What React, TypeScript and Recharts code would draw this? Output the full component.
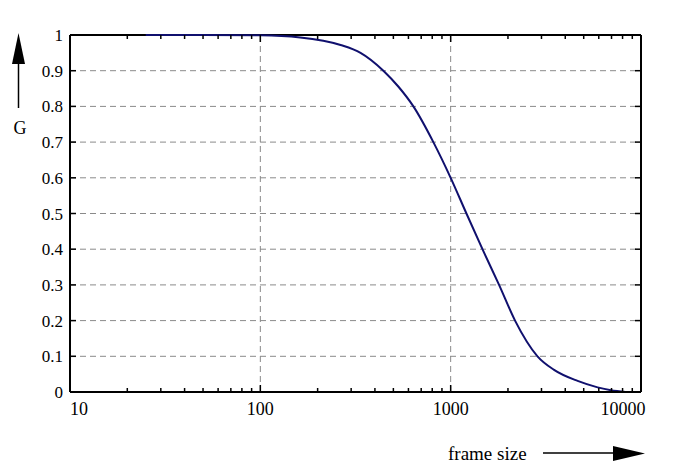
import { LineChart, Line, XAxis, YAxis, CartesianGrid, ReferenceLine } from "recharts";

// frame size (log axis) vs G
const frameSizes = [25, 50, 100, 162, 264, 336, 443, 532, 637, 811, 1000, 1210, 1469, 1796, 2179, 2858, 3494, 4645, 5916, 6950, 8300];
const gValues = [1.0, 1.0, 0.999, 0.993, 0.972, 0.95, 0.9, 0.855, 0.8, 0.7, 0.6, 0.5, 0.4, 0.3, 0.2, 0.1, 0.062, 0.031, 0.013, 0.005, 0.0];

const xMajorTicks = [10, 100, 1000, 10000];
const xMinorTicks = [20, 30, 40, 50, 60, 70, 80, 90, 200, 300, 400, 500, 600, 700, 800, 900, 2000, 3000, 4000, 5000, 6000, 7000, 8000, 9000];
const xAllTicks = [...xMajorTicks, ...xMinorTicks].sort((a, b) => a - b);
const xGridLines = [100, 1000];
const yTicks = [0, 0.1, 0.2, 0.3, 0.4, 0.5, 0.6, 0.7, 0.8, 0.9, 1];
const yTop = [1];

const data = frameSizes.map((x, i) => ({ x, g: gValues[i] }));

const font = "'Liberation Serif', 'DejaVu Serif', serif";
const axisLine = { stroke: "#000", strokeWidth: 2 };
const gridColor = "#8a8a8a";

const isMajor = (v: number) => xMajorTicks.includes(v);

function BottomTick({ x, y, payload }: any) {
  const v = payload.value;
  const len = isMajor(v) ? 7 : 4;
  let tx = x;
  if (v === 10) tx = x + 9;
  if (v === 10000) tx = x - 18;
  return (
    <g>
      <line x1={x} x2={x} y1={y} y2={y - len} stroke="#000" strokeWidth={1.5} />
      {isMajor(v) && (
        <text x={tx} y={y + 23} textAnchor="middle" fontFamily={font} fontSize={18} fill="#000">
          {v}
        </text>
      )}
    </g>
  );
}

function TopTick({ x, y, payload }: any) {
  const len = isMajor(payload.value) ? 7 : 4;
  return <line x1={x} x2={x} y1={y} y2={y + len} stroke="#000" strokeWidth={1.5} />;
}

function LeftTick({ x, y, payload }: any) {
  return (
    <g>
      <line x1={x} x2={x + 6} y1={y} y2={y} stroke="#000" strokeWidth={1.5} />
      <text x={x - 7} y={y + 6} textAnchor="end" fontFamily={font} fontSize={17} fill="#000">
        {payload.value}
      </text>
    </g>
  );
}

function RightTick({ x, y }: any) {
  return <line x1={x} x2={x - 6} y1={y} y2={y} stroke="#000" strokeWidth={1.5} />;
}

export default function App() {
  return (
    <div style={{ position: "absolute", left: 0, top: 0, width: 693, height: 472, background: "#fff" }}>
      <LineChart width={693} height={472} data={data} margin={{ top: 34, right: 51, bottom: 0, left: 0 }}>
        <CartesianGrid vertical={false} stroke={gridColor} strokeDasharray="6 4" />
        {/* top frame edge, kept under the curve */}
        <CartesianGrid vertical={false} horizontalValues={yTop} stroke="#000" strokeWidth={2} />
        {xGridLines.map((v) => (
          <ReferenceLine key={v} x={v} stroke={gridColor} strokeDasharray="6 4" />
        ))}
        <XAxis
          dataKey="x"
          type="number"
          scale="log"
          domain={[10, 10000]}
          allowDataOverflow
          ticks={xAllTicks}
          interval={0}
          height={80}
          tickSize={0}
          tickMargin={0}
          axisLine={axisLine}
          tick={<BottomTick />}
        />
        <XAxis
          xAxisId="top"
          orientation="top"
          dataKey="x"
          type="number"
          scale="log"
          domain={[10, 10000]}
          allowDataOverflow
          ticks={xAllTicks}
          interval={0}
          height={1}
          tickSize={0}
          tickMargin={0}
          axisLine={false}
          tick={<TopTick />}
        />
        <YAxis
          type="number"
          domain={[0, 1]}
          ticks={yTicks}
          interval={0}
          width={70}
          tickSize={0}
          tickMargin={0}
          axisLine={axisLine}
          tick={<LeftTick />}
        />
        <YAxis
          yAxisId="right"
          orientation="right"
          type="number"
          domain={[0, 1]}
          ticks={yTicks}
          interval={0}
          width={1}
          tickSize={0}
          tickMargin={0}
          axisLine={axisLine}
          tick={<RightTick />}
        />
        {/* invisible copy so the top and right frame axes get drawn */}
        <Line
          xAxisId="top"
          yAxisId="right"
          dataKey="g"
          stroke="none"
          dot={false}
          activeDot={false}
          isAnimationActive={false}
        />
        <Line
          type="monotone"
          dataKey="g"
          stroke="#10106e"
          strokeWidth={2}
          dot={false}
          isAnimationActive={false}
        />
      </LineChart>
      <svg width={693} height={472} style={{ position: "absolute", left: 0, top: 0, pointerEvents: "none" }}>
        <line x1={18.5} x2={18.5} y1={60} y2={108} stroke="#000" strokeWidth={1.5} />
        <polygon points="12,64 25,64 18.5,33" fill="#000" />
        <text x={20} y={134} textAnchor="middle" fontFamily={font} fontSize={18} fill="#000">G</text>
        <text x={448} y={460} fontFamily={font} fontSize={19} fill="#000">frame size</text>
        <line x1={543} x2={616} y1={453} y2={453} stroke="#000" strokeWidth={1.5} />
        <polygon points="613,446 613,461 645,453.5" fill="#000" />
      </svg>
    </div>
  );
}
